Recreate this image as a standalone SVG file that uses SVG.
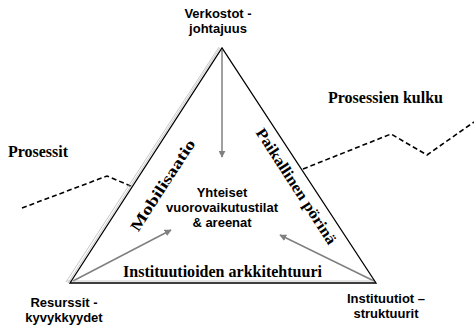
<svg xmlns="http://www.w3.org/2000/svg" width="474" height="326" viewBox="0 0 474 326">
<style>
.sans{font-family:"Liberation Sans",Arial,sans-serif;font-weight:bold;font-size:13px;fill:#000;text-anchor:middle}
.serif{font-family:"Liberation Serif","Times New Roman",serif;font-weight:bold;font-size:16px;fill:#000}
.rot{font-size:15.5px;text-anchor:middle}
.edge{stroke:#000;stroke-width:1.3;fill:none}
.shadow{stroke:#bbb;stroke-width:0.8;fill:none}
.garrow{stroke:#808080;stroke-width:1.5;fill:none;marker-end:url(#ah)}
.dash{stroke:#000;stroke-width:1.6;stroke-dasharray:5,3;fill:none}
</style>
<defs>
<marker id="ah" viewBox="0 0 10 10" refX="9" refY="5" markerWidth="7" markerHeight="7" markerUnits="userSpaceOnUse" orient="auto">
<path d="M0,0 L10,5 L0,10 z" fill="#808080"/>
</marker>
</defs>
<rect width="474" height="326" fill="#fff"/>
<g id="connectors">
<path class="dash" d="M22,208 L107,176 L133,187"/>
<path class="dash" d="M303,169 L391,134 L427,155 L474,122"/>
<line class="garrow" x1="222" y1="50" x2="222" y2="157"/>
<line class="garrow" x1="73" y1="281" x2="171" y2="230"/>
<line class="garrow" x1="374" y1="281" x2="280" y2="235"/>
</g>
<g id="triangle">
<path class="shadow" d="M66,282 L219,47"/>
<path class="shadow" d="M68,283 L220,48"/>
<path class="shadow" d="M67,281 L375,281"/>
<path class="edge" d="M70,283 L222,48 L376,283 Z"/>
</g>
<g id="node-verkostot">
<text class="sans" x="218" y="18">Verkostot -</text>
<text class="sans" x="218" y="33">johtajuus</text>
</g>
<g id="node-resurssit">
<text class="sans" x="64" y="307">Resurssit  -</text>
<text class="sans" x="64" y="322">kyvykkyydet</text>
</g>
<g id="node-instituutiot">
<text class="sans" x="386" y="303">Instituutiot –</text>
<text class="sans" x="386" y="318">struktuurit</text>
</g>
<g id="node-center">
<text class="sans" x="222" y="197">Yhteiset</text>
<text class="sans" x="222" y="212">vuorovaikutustilat</text>
<text class="sans" x="222" y="227">&amp; areenat</text>
</g>
<g id="labels">
<text class="serif" x="8" y="157" textLength="60" lengthAdjust="spacingAndGlyphs">Prosessit</text>
<text class="serif" x="328" y="103" textLength="115" lengthAdjust="spacingAndGlyphs">Prosessien kulku</text>
<text class="serif" x="123" y="277" textLength="199" lengthAdjust="spacingAndGlyphs">Instituutioiden arkkitehtuuri</text>
<text class="serif rot" textLength="106" lengthAdjust="spacingAndGlyphs" transform="translate(167,188) rotate(-57)">Mobilisaatio</text>
<text class="serif rot" textLength="135" lengthAdjust="spacingAndGlyphs" transform="translate(292,189) rotate(57)">Paikallinen pörinä</text>
</g>
</svg>
